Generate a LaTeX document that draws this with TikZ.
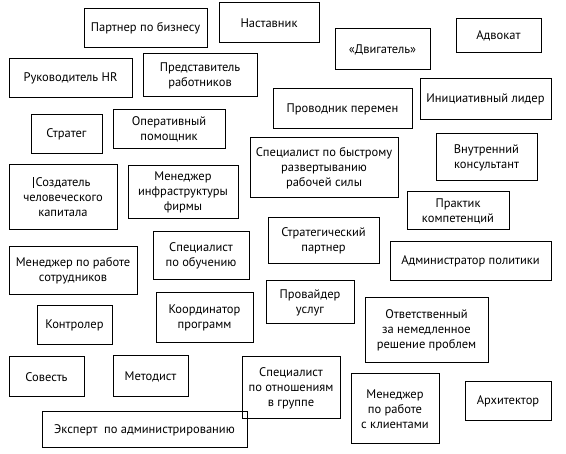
\documentclass[tikz,border=0pt]{standalone}
\usepackage{fontspec}
\setmainfont{PT Sans}
\tikzset{
  role/.style={draw, line width=1pt, align=center, inner sep=0pt,
    font=\fontsize{12.5}{15}\selectfont}
}
\begin{document}
\begin{tikzpicture}[x=1pt,y=-1pt]
        \useasboundingbox (0,0) rectangle (566,454);

        % top rows
        \node[role,minimum width=123,minimum height=39] (partner) at (145.5,28.5) {Партнер по бизнесу};
        \node[role,minimum width=100,minimum height=40] (mentor) at (269,23) {Наставник};
        \node[role,minimum width=95,minimum height=41] (driver) at (382.5,49.5) {«Двигатель»};
        \node[role,minimum width=85,minimum height=34] (advocate) at (498.5,36) {Адвокат};
        \node[role,minimum width=123,minimum height=39] (hrlead) at (70.5,78.5) {Руководитель HR};
        \node[role,minimum width=114,minimum height=43] (emprep) at (200,75.5) {Представитель\\работников};
        \node[role,minimum width=139,minimum height=40] (changeagent) at (342.5,109) {Проводник перемен};
        \node[role,minimum width=131,minimum height=41] (initleader) at (485.5,99.5) {Инициативный лидер};
        \node[role,minimum width=71,minimum height=39] (strateg) at (66.5,134.5) {Стратег};
        \node[role,minimum width=112,minimum height=39] (opassist) at (169,129.5) {Оперативный\\помощник};
        \node[role,minimum width=148,minimum height=60] (rapiddeploy) at (324,168) {Специалист по быстрому\\развертыванию\\рабочей силы};
        \node[role,minimum width=101,minimum height=47] (intcons) at (486.5,157.5) {Внутренний\\консультант};

        % middle rows
        \node[role,minimum width=108,minimum height=65] (capital) at (63,197.5) {Создатель\\человеческого\\капитала};
        \draw[line width=0.6pt] ([xshift=25pt,yshift=-13pt]capital.north west) -- ++(0,11);
        \node[role,minimum width=110,minimum height=53] (infra) at (183,192.5) {Менеджер\\инфраструктуры\\фирмы};
        \node[role,minimum width=102,minimum height=38] (competence) at (458,211) {Практик\\компетенций};
        \node[role,minimum width=111,minimum height=46] (stratpartner) at (323.5,241) {Стратегический\\партнер};
        \node[role,minimum width=128,minimum height=48] (empmgr) at (73,271) {Менеджер по работе\\сотрудников};
        \node[role,minimum width=96,minimum height=48] (trainer) at (201,256) {Специалист\\по обучению};
        \node[role,minimum width=161,minimum height=39] (policyadmin) at (470.5,261.5) {Администратор политики};
        \node[role,minimum width=88,minimum height=43] (provider) at (310,302.5) {Провайдер\\услуг};
        \node[role,minimum width=97,minimum height=50] (progcoord) at (204.5,318) {Координатор\\программ};
        \node[role,minimum width=123,minimum height=65] (troubleshoot) at (426.5,330.5) {Ответственный\\за немедленное\\решение проблем};
        \node[role,minimum width=75,minimum height=39] (controller) at (74.5,325.5) {Контролер};

        % bottom rows
        \node[role,minimum width=75,minimum height=40] (conscience) at (46.5,377) {Совесть};
        \node[role,minimum width=75,minimum height=41] (methodist) at (150.5,376.5) {Методист};
        \node[role,minimum width=98,minimum height=62] (groupspec) at (291,388) {Специалист\\по отношениям\\в группе};
        \node[role,minimum width=88,minimum height=70] (clientmgr) at (395,409) {Менеджер\\по работе\\с клиентами};
        \node[role,minimum width=86,minimum height=39] (architect) at (508,401.5) {Архитектор};
        \node[role,minimum width=205,minimum height=36] (adminexpert) at (144.5,430) {Эксперт\ \ по администрированию};

    \end{tikzpicture}
\end{document}
